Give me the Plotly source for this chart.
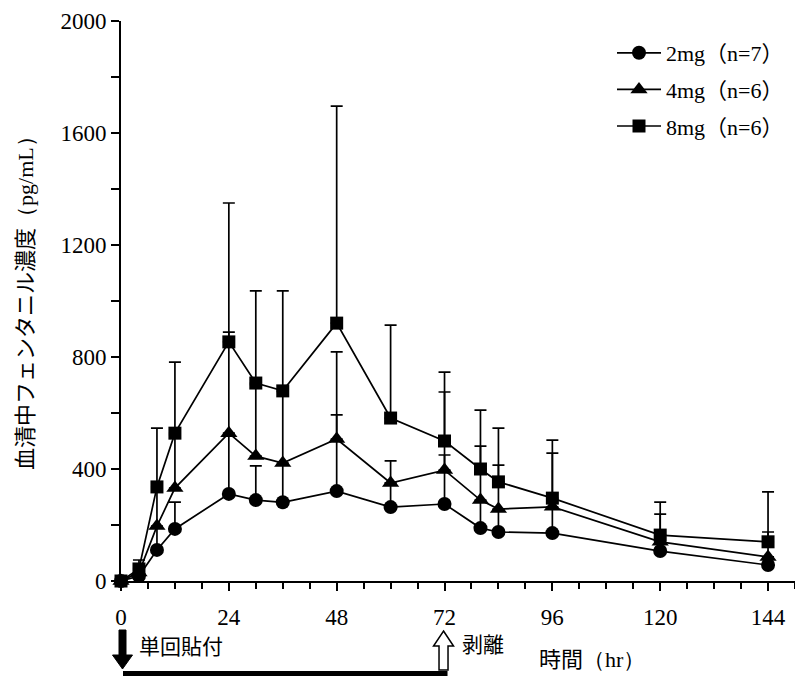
import plotly.graph_objects as go

# ---------------- data ----------------
times = [0, 4, 8, 12, 24, 30, 36, 48, 60, 72, 80, 84, 96, 120, 144]

mean_2mg = [0, 18, 111, 186, 311, 289, 281, 321, 264, 275, 189, 175, 171, 107, 57]
sd_2mg = [0, 20, 80, 96, 209, 122, 135, 272, 86, 175, 95, 80, 90, 30, 25]

mean_4mg = [0, 30, 196, 332, 528, 446, 421, 507, 350, 396, 289, 257, 265, 140, 86]
sd_4mg = [0, 15, 134, 190, 361, 255, 255, 311, 79, 279, 193, 157, 192, 99, 89]

mean_8mg = [0, 43, 336, 528, 854, 707, 679, 921, 582, 500, 400, 354, 296, 164, 140]
sd_8mg = [0, 32, 210, 254, 496, 329, 357, 775, 332, 246, 210, 192, 207, 118, 178]

series_names = ["2mg（n=7）", "4mg（n=6）", "8mg（n=6）"]
x_ticks = [0, 24, 48, 72, 96, 120, 144]
y_ticks = [0, 400, 800, 1200, 1600, 2000]

apply_time = 0
remove_time = 72

# ---------------- layout constants ----------------
W, H = 795, 676
ML, MR, MT, MB = 121, 0, 21, 95
PW, PH = W - ML - MR, H - MT - MB
XR = [0, 150]
YR = [0, 2000]

SERIF = "'Liberation Serif', 'Noto Sans CJK JP', serif"
SANS = "'Noto Sans CJK JP', sans-serif"


def t2paper(t):
    return (t - XR[0]) / (XR[1] - XR[0])


def px2paper_x(px):
    return (px - ML) / PW


def dx(px):
    return px / PW


def py2paper(py):
    return (H - MB - py) / PH


fig = go.Figure()

specs = [
    (mean_2mg, sd_2mg, "circle", 14),
    (mean_4mg, sd_4mg, "triangle-up", 15),
    (mean_8mg, sd_8mg, "square", 13),
]
for name, (m, sd, sym, size) in zip(series_names, specs):
    fig.add_trace(go.Scatter(
        x=times, y=m, name=name, mode="lines+markers",
        line=dict(color="black", width=1.7),
        marker=dict(symbol=sym, size=size, color="black"),
        error_y=dict(type="data", symmetric=False, array=sd,
                     arrayminus=[0] * len(sd), color="black",
                     thickness=1.7, width=6),
        cliponaxis=False, legendgroup=name,
    ))

shapes = []
# black down arrow at application time
cx = t2paper(apply_time) + dx(1.5)
top, sbot, tip = py2paper(630), py2paper(655), py2paper(669)
sw, hw = dx(3.5), dx(10)
path = (f"M{cx - sw},{top} L{cx + sw},{top} L{cx + sw},{sbot} L{cx + hw},{sbot} "
        f"L{cx},{tip} L{cx - hw},{sbot} L{cx - sw},{sbot} Z")
shapes.append(dict(type="path", xref="paper", yref="paper", path=path,
                   fillcolor="black", line=dict(color="black", width=1)))
# white up arrow at removal time
cx2 = t2paper(remove_time) - dx(1)
tip2, hbase, sbot2 = py2paper(631), py2paper(646), py2paper(670)
sw2, hw2 = dx(4.5), dx(10)
path2 = (f"M{cx2},{tip2} L{cx2 + hw2},{hbase} L{cx2 + sw2},{hbase} L{cx2 + sw2},{sbot2} "
         f"L{cx2 - sw2},{sbot2} L{cx2 - sw2},{hbase} L{cx2 - hw2},{hbase} Z")
shapes.append(dict(type="path", xref="paper", yref="paper", path=path2,
                   fillcolor="white", line=dict(color="black", width=1.5)))
# horizontal application bar
shapes.append(dict(type="rect", xref="paper", yref="paper",
                   x0=t2paper(apply_time) + dx(2), x1=t2paper(remove_time) + dx(3),
                   y0=py2paper(676), y1=py2paper(671),
                   fillcolor="black", line=dict(width=0)))

annotations = [
    dict(text="単回貼付", xref="paper", yref="paper", x=px2paper_x(137), y=py2paper(645),
         xanchor="left", yanchor="middle", showarrow=False,
         font=dict(family=SANS, size=21, color="black")),
    dict(text="剥離", xref="paper", yref="paper", x=px2paper_x(460), y=py2paper(643),
         xanchor="left", yanchor="middle", showarrow=False,
         font=dict(family=SANS, size=21, color="black")),
    dict(text="時間<span style=\"font-family:'Liberation Serif'\">（hr）</span>",
         xref="paper", yref="paper", x=px2paper_x(537), y=py2paper(657),
         xanchor="left", yanchor="middle", showarrow=False,
         font=dict(family=SANS, size=22, color="black")),
    dict(text="血清中フェンタニル濃度<span style=\"font-family:'Liberation Serif'\">（pg/mL）</span>",
         xref="paper", yref="paper", x=px2paper_x(23), y=py2paper(298),
         xanchor="center", yanchor="middle", textangle=-90, showarrow=False,
         font=dict(family=SANS, size=22, color="black")),
]

fig.update_layout(
    width=W, height=H,
    margin=dict(l=ML, r=MR, t=MT, b=MB, pad=0),
    paper_bgcolor="white", plot_bgcolor="white",
    showlegend=True,
    legend=dict(x=px2paper_x(612), y=py2paper(32), xanchor="left", yanchor="top",
                font=dict(family=SERIF, size=22, color="black"),
                bgcolor="rgba(0,0,0,0)", traceorder="grouped", tracegroupgap=5,
                itemwidth=44),
    shapes=shapes,
    annotations=annotations,
    xaxis=dict(range=XR, tickvals=x_ticks, ticktext=[str(v) for v in x_ticks],
               showline=True, linecolor="black", linewidth=2,
               ticks="outside", ticklen=8, tickwidth=1.6, tickcolor="black",
               ticklabelstandoff=6,
               minor=dict(dtick=6, tick0=0, ticks="outside", ticklen=6,
                          tickwidth=1.6, tickcolor="black"),
               showgrid=False, zeroline=False,
               tickfont=dict(family=SERIF, size=23, color="black")),
    yaxis=dict(range=YR, tickvals=y_ticks, ticktext=[str(v) for v in y_ticks],
               showline=True, linecolor="black", linewidth=2,
               ticks="outside", ticklen=8, tickwidth=1.6, tickcolor="black",
               minor=dict(dtick=200, tick0=0, ticks="outside", ticklen=8,
                          tickwidth=1.6, tickcolor="black"),
               showgrid=False, zeroline=False,
               tickfont=dict(family=SERIF, size=23, color="black")),
)

fig.write_html("out.html")
